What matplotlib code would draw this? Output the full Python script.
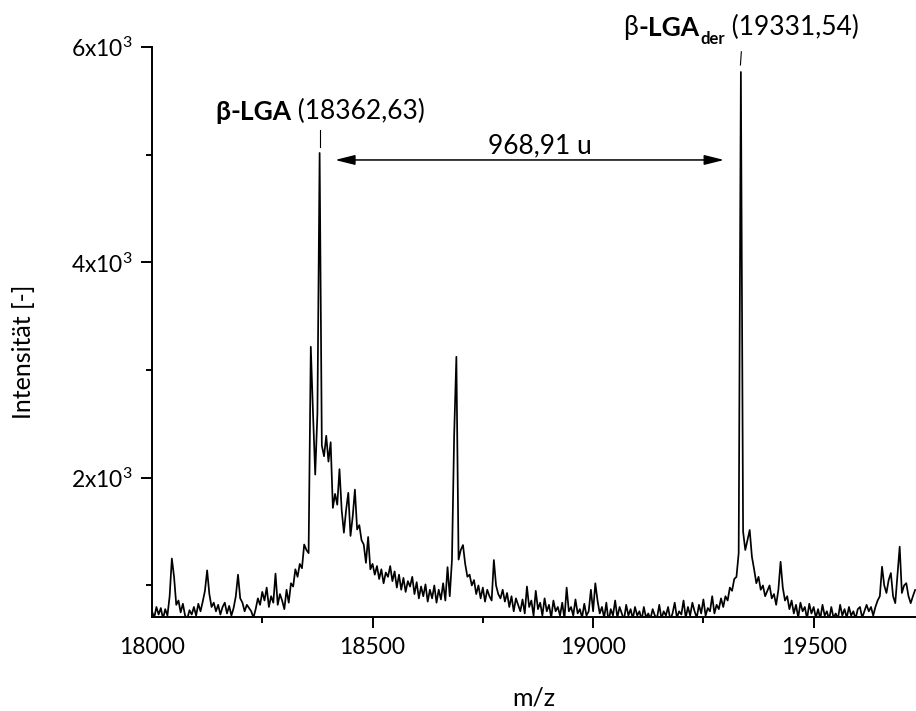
import numpy as np
import matplotlib
matplotlib.use("Agg")
import matplotlib.pyplot as plt
from matplotlib.ticker import MultipleLocator, FixedLocator, FuncFormatter
from matplotlib.patches import ArrowStyle

plt.rcParams['font.family'] = ['Lato', 'DejaVu Sans']
plt.rcParams['mathtext.fontset'] = 'custom'
plt.rcParams['mathtext.rm'] = 'Lato'
plt.rcParams['mathtext.bf'] = 'Lato:bold'
plt.rcParams['mathtext.it'] = 'Lato:italic'

# ---------------- data ----------------
MZ_START = 18000
MZ_STEP = 5
intensity = [
    # 18000-18095
    760, 700, 800, 730, 790, 690, 780, 720, 900, 1250, 1080, 820, 860, 750, 830, 720, 690, 770, 730, 800,
    # 18100-18195
    720, 830, 760, 850, 950, 1140, 920, 800, 840, 760, 820, 730, 800, 840, 740, 810, 720, 790, 900, 1100,
    # 18200-18295
    880, 840, 760, 820, 790, 760, 700, 780, 880, 820, 940, 860, 980, 800, 900, 840, 1110, 820, 920, 860,
    # 18300-18395
    780, 960, 840, 1020, 990, 1150, 1080, 1200, 1160, 1380, 1330, 1300, 3216, 2600, 2030, 2600, 5016, 2300, 2200, 2390,
    # 18400-18495
    2150, 2330, 1720, 1850, 1750, 2080, 1700, 1490, 1700, 1860, 1460, 1640, 1890, 1520, 1560, 1420, 1380, 1210, 1450, 1150,
    # 18500-18595
    1200, 1100, 1180, 1060, 1150, 1020, 1120, 1080, 1180, 1040, 1130, 980, 1100, 960, 1070, 940, 1040, 990, 1080, 920,
    # 18600-18695
    1030, 880, 990, 900, 1010, 850, 960, 880, 1000, 840, 960, 870, 1020, 860, 1170, 900, 1236, 2400, 3123, 1240,
    # 18700-18795
    1330, 1375, 1200, 1081, 1100, 1000, 1050, 920, 1000, 880, 980, 850, 960, 900, 860, 1236, 1000, 920, 880, 960,
    # 18800-18895
    850, 930, 800, 900, 760, 880, 820, 760, 870, 740, 990, 800, 860, 720, 950, 780, 840, 720, 880, 760,
    # 18900-18995
    820, 700, 860, 760, 800, 720, 840, 690, 980, 760, 800, 720, 870, 740, 780, 700, 830, 720, 760, 960,
    # 19000-19095
    760, 1020, 860, 740, 800, 700, 840, 660, 780, 720, 860, 700, 800, 740, 680, 820, 720, 780, 690, 800,
    # 19100-19195
    720, 760, 680, 800, 700, 740, 690, 780, 720, 700, 820, 690, 760, 720, 800, 680, 740, 840, 700, 760,
    # 19200-19295
    730, 860, 700, 800, 720, 840, 760, 700, 820, 740, 870, 720, 790, 760, 900, 740, 820, 780, 880, 800,
    # 19300-19395
    900, 860, 980, 950, 1060, 1080, 1300, 5768, 1500, 1329, 1420, 1515, 1267, 1150, 1021, 1080, 960, 1000, 900, 950,
    # 19400-19495
    1000, 880, 920, 820, 960, 1220, 980, 860, 900, 780, 860, 740, 820, 700, 840, 760, 800, 690, 830, 740,
    # 19500-19595
    800, 700, 780, 690, 820, 720, 760, 680, 800, 700, 740, 690, 820, 720, 780, 700, 800, 720, 760, 690,
    # 19600-19695
    780, 800, 700, 760, 820, 760, 800, 720, 800, 860, 900, 1174, 1000, 930, 1050, 1115, 900, 836, 1100, 1360,
    # 19700-19730
    930, 1000, 1021, 900, 836, 900, 958,
]
mz = MZ_START + MZ_STEP * np.arange(len(intensity))

peak1_mz, peak1_int = 18381, 5016
peak2_mz, peak2_int = 19335, 5768
peak1_label = " (18362,63)"
peak2_label = " (19331,54)"
delta_label = "968,91 u"
arrow_x = (18415, 19297)
arrow_y = 4951

x_ticks = [18000, 18500, 19000, 19500]
y_ticks = [2000, 4000, 6000]
xlim = (18000, 19732)
ylim = (707, 6000)

# ---------------- figure ----------------
W, H = 916, 711
fig = plt.figure(figsize=(W / 100, H / 100), dpi=100)
ax = fig.add_axes([152 / W, 1 - 617 / H, (W - 152) / W, (617 - 47) / H])

ax.plot(mz, intensity, color='black', lw=1.25)
ax.set_xlim(*xlim)
ax.set_ylim(*ylim)

for s in ('top', 'right'):
    ax.spines[s].set_visible(False)
for s in ('left', 'bottom'):
    ax.spines[s].set_linewidth(1.4)

ax.xaxis.set_major_locator(FixedLocator(x_ticks))
ax.xaxis.set_minor_locator(MultipleLocator(500, offset=250))
ax.yaxis.set_major_locator(FixedLocator(y_ticks))
ax.yaxis.set_minor_locator(FixedLocator([1000, 3000, 5000]))
ax.yaxis.set_major_formatter(FuncFormatter(lambda v, p: f"{int(round(v / 1000))}x10$^{{3}}$"))
ax.xaxis.set_major_formatter(FuncFormatter(lambda v, p: f"{int(v)}"))

ax.tick_params(which='major', direction='out', length=8, width=1.4, labelsize=16.5)
ax.tick_params(which='minor', direction='out', length=4, width=1.4)
ax.tick_params(axis='x', which='major', pad=6.5)
ax.tick_params(axis='y', which='major', pad=6)

ax.set_xlabel("m/z", fontsize=18)
ax.set_ylabel("Intensität [-]", fontsize=18)
ax.xaxis.set_label_coords(0.5, -(706 - 617) / 570)
ax.xaxis.label.set_verticalalignment('baseline')
ax.yaxis.set_label_coords((31 - 152) / 764, (617 - 352) / 570)
ax.yaxis.label.set_verticalalignment('baseline')

fig.canvas.draw()
ax.xaxis.get_major_ticks()[0].tick1line.set_visible(False)

FS = 19


def chain_label(x_center, y, pieces):
    """pieces: list of (text, props, mode) mode in {'main','sub'}"""
    first_txt, first_props, _ = pieces[0]
    t0 = ax.text(x_center, y, first_txt, ha='left', va='baseline', clip_on=False,
                 fontsize=FS, **first_props)
    arts = [t0]
    prev_main = t0
    prev = t0
    for txt, props, mode in pieces[1:]:
        if mode == 'sub':
            a = ax.annotate(txt, xy=(1, 0), xycoords=prev, xytext=(0.5, -5),
                            textcoords='offset points', ha='left', va='bottom',
                            annotation_clip=False, fontsize=12, **props)
        else:
            a = ax.annotate(txt, xy=(1, 0), xycoords=(prev, prev_main), xytext=(0, 0),
                            textcoords='offset points', ha='left', va='bottom',
                            annotation_clip=False, fontsize=FS, **props)
            prev_main = a
        prev = a
        arts.append(a)
    fig.canvas.draw()
    r = fig.canvas.get_renderer()
    left = arts[0].get_window_extent(r).x0
    right = max(a.get_window_extent(r).x1 for a in arts)
    target = ax.transData.transform((x_center, y))[0]
    shift = target - (left + right) / 2
    new_disp = ax.transData.transform((x_center, y)) + np.array([shift, 0])
    nx, ny = ax.transData.inverted().transform(new_disp)
    arts[0].set_position((nx, y))


# label 1
chain_label(peak1_mz, 5318, [
    ("β", dict(fontweight='bold'), 'main'),
    ("-LGA", dict(fontweight='bold'), 'main'),
    (peak1_label, dict(), 'main'),
])
# label 2
chain_label(peak2_mz, 6111, [
    ("β", dict(), 'main'),
    ("-LGA", dict(fontweight='bold'), 'main'),
    ("der", dict(fontweight='bold'), 'sub'),
    (peak2_label, dict(), 'main'),
])

# small marker ticks above the peaks
ax.plot([peak1_mz, peak1_mz], [5072, 5230], color='black', lw=0.8, clip_on=False)
ax.plot([19334, 19336], [5833, 5956], color='black', lw=0.8, clip_on=False)

# double arrow
ax.annotate("", xy=(arrow_x[0], arrow_y), xytext=(arrow_x[1], arrow_y),
            arrowprops=dict(arrowstyle=ArrowStyle('<|-|>', head_length=1.2, head_width=0.3),
                            mutation_scale=10, lw=1.1, color='black',
                            shrinkA=0, shrinkB=0),
            annotation_clip=False)
ax.text(18880, 5013, delta_label, ha='center', va='baseline', fontsize=FS)

fig.savefig("out.png", dpi=100)
